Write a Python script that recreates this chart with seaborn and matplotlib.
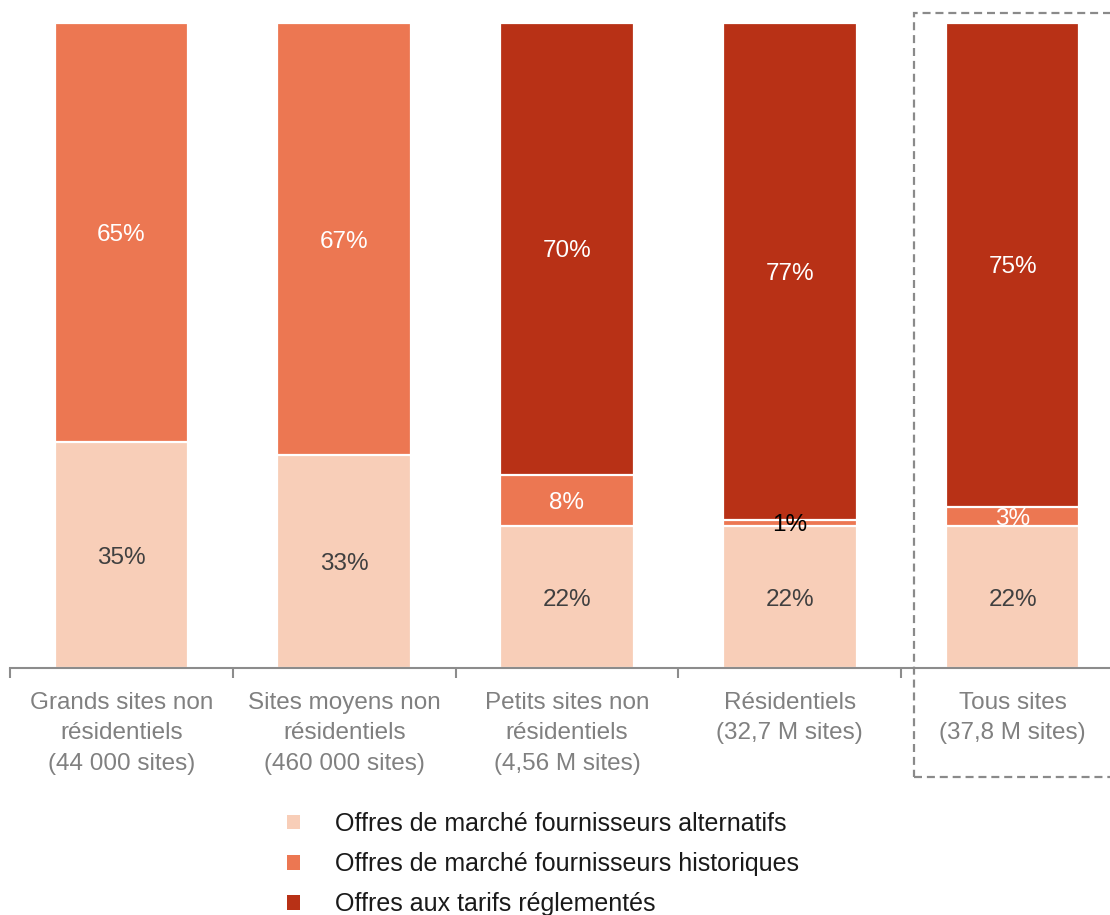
import matplotlib
matplotlib.use("Agg")
import matplotlib.pyplot as plt
import seaborn as sns
import pandas as pd
from matplotlib.patches import Patch, Rectangle

categories = [
    "Grands sites non\nrésidentiels\n(44 000 sites)",
    "Sites moyens non\nrésidentiels\n(460 000 sites)",
    "Petits sites non\nrésidentiels\n(4,56 M sites)",
    "Résidentiels\n(32,7 M sites)",
    "Tous sites\n(37,8 M sites)",
]
alternatifs = [35, 33, 22, 22, 22]
historiques = [65, 67, 8, 1, 3]
reglementes = [0, 0, 70, 77, 75]

series_names = [
    "Offres de marché fournisseurs alternatifs",
    "Offres de marché fournisseurs historiques",
    "Offres aux tarifs réglementés",
]
colors = ["#F8CEB8", "#EC7752", "#B83116"]
label_colors = ["#404040", "white", "white"]

sns.set_theme(style="white")
plt.rcParams["font.family"] = ["Liberation Sans", "DejaVu Sans"]

fig = plt.figure(figsize=(11.1, 9.15), dpi=100)
W, H = 1110, 915
ax = fig.add_axes([10 / W, (H - 668) / H, 1114 / W, 645 / H])

layers = [alternatifs, historiques, reglementes]
cum = []
run = [0] * len(categories)
for vals in layers:
    run = [r + v for r, v in zip(run, vals)]
    cum.append(list(run))

# Draw cumulative stacks from back (total) to front (lowest layer)
for i in [2, 1, 0]:
    df = pd.DataFrame({"cat": categories, "val": cum[i]})
    sns.barplot(data=df, x="cat", y="val", order=categories, color=colors[i],
                width=0.6, edgecolor="white", linewidth=1.6, ax=ax,
                saturation=1, errorbar=None)

# Segment labels
for j in range(len(categories)):
    base = 0
    for i, vals in enumerate(layers):
        v = vals[j]
        if v > 0:
            c = label_colors[i]
            if v < 2:
                c = "black"
            ax.text(j, base + v / 2, f"{v}%", ha="center", va="center_baseline",
                    fontsize=17.5, color=c)
        base += v

ax.set_xlim(-0.5, 4.5)
ax.set_ylim(0, 100)
ax.set_xlabel("")
ax.set_ylabel("")
ax.set_yticks([])
for s in ["top", "right", "left"]:
    ax.spines[s].set_visible(False)
ax.spines["bottom"].set_color("#8c8c8c")
ax.spines["bottom"].set_linewidth(1.5)
ax.set_xticks(range(len(categories)))
ax.set_xticklabels(categories, fontsize=17.5, color="#808080", linespacing=1.48)
ax.tick_params(axis="x", which="major", length=0, pad=17.5, bottom=True)
ax.set_xticks([k - 0.5 for k in range(len(categories) + 1)], minor=True)
ax.tick_params(axis="x", which="minor", length=7, width=1.5, color="#8c8c8c",
               direction="out", bottom=True)

# Dashed highlight box around the last category
rect = Rectangle((914 / W, (H - 777) / H), 250 / W, (777 - 13) / H,
                 transform=fig.transFigure, fill=False, edgecolor="#8a8a8a",
                 linestyle=(0, (3.6, 2.2)), linewidth=1.6, clip_on=False)
fig.add_artist(rect)

handles = [Patch(facecolor=c, edgecolor="none") for c in colors]
fig.legend(handles, series_names, loc="upper left",
           bbox_to_anchor=(287 / W, 1 - 812 / H), frameon=False,
           borderpad=0, borderaxespad=0,
           fontsize=18, handlelength=0.52, handleheight=0.52,
           handletextpad=1.4, labelspacing=0.65, labelcolor="#1a1a1a")

fig.savefig("out.png", dpi=100)
